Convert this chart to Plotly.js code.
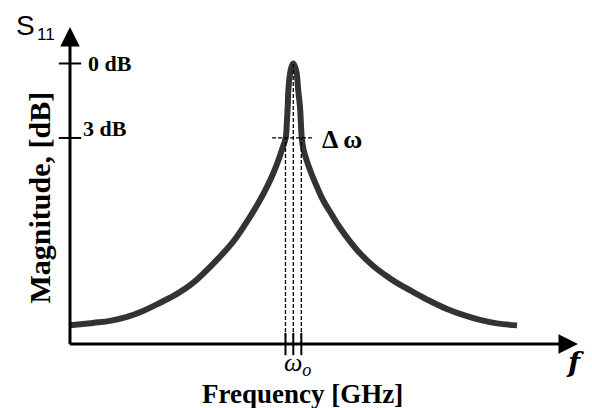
<!DOCTYPE html>
<html>
<head>
<meta charset="utf-8">
<script src="https://cdn.plot.ly/plotly-3.0.1.min.js"></script>
<style>html,body{margin:0;padding:0;background:#fff;}#chart{width:592px;height:408px;}</style>
</head>
<body>
<div id="chart"></div>
<script>
// Frequency (arbitrary GHz units, resonance at 10) and magnitude (dB)
const freq = [0.00, 1.03, 1.79, 2.55, 3.27, 4.03, 4.79, 5.51, 6.58, 7.30, 8.06, 8.51, 8.82, 9.09, 9.32, 9.49,
              9.66, 9.71, 9.75, 9.78, 9.86, 9.92, 10.00, 10.08, 10.15, 10.22, 10.30, 10.34, 10.38, 10.46,
              10.75, 11.06, 11.33, 11.73, 12.09, 12.85, 13.57, 14.11, 14.64, 15.36, 16.12, 16.88, 17.60, 18.36, 19.12, 20.02];
const magDb = [-10.55, -10.45, -10.37, -10.21, -9.97, -9.64, -9.28, -8.84, -7.91, -7.19, -6.18, -5.50, -4.97, -4.45, -3.93, -3.48,
               -3.00, -2.40, -1.75, -1.07, -0.38, -0.14, 0.00, -0.14, -0.38, -1.07, -1.75, -2.40, -3.00, -3.48,
               -4.29, -4.97, -5.50, -6.10, -6.62, -7.51, -8.15, -8.52, -8.84, -9.20, -9.57, -9.89, -10.13, -10.33, -10.47, -10.55];
// Marked frequencies: lower -3 dB point, resonance, upper -3 dB point
const markFreq = [9.65, 10.00, 10.36];
const markTop = [-3, 0, -3];
// Half-power level line extent
const halfPowerSpan = [9.05, 10.93];
const halfPowerLevel = -3;
// y tick values and labels
const yTickVals = [0, -3];
const yTickText = ['0 dB', '3 dB'];

const xMin = 0, xMax = 22.75, yMin = -11.30, yMax = 1.47;
const serif = 'Liberation Serif, Times New Roman, serif';

// vertical dashed lines
const vx = [], vy = [];
markFreq.forEach((f, i) => { vx.push(f, f, null); vy.push(yMin, markTop[i], null); });

const traces = [
  { x: freq, y: magDb, mode: 'lines', line: { color: '#333333', width: 6, shape: 'spline', smoothing: 1 },
    hoverinfo: 'skip', showlegend: false },
  { x: vx, y: vy, mode: 'lines', line: { color: '#000', width: 1.3, dash: '4px,2px' }, hoverinfo: 'skip', showlegend: false },
  { x: halfPowerSpan, y: [halfPowerLevel, halfPowerLevel], mode: 'lines',
    line: { color: '#000', width: 1.3, dash: '4px,2px' }, hoverinfo: 'skip', showlegend: false },
  { x: yTickVals.map(() => 0), y: yTickVals, mode: 'markers', cliponaxis: false,
    marker: { symbol: 'line-ew', size: 16, line: { color: '#000', width: 2 } }, hoverinfo: 'skip', showlegend: false },
  { x: markFreq, y: markFreq.map(() => yMin), mode: 'markers', cliponaxis: false,
    marker: { symbol: 'line-ns', size: 16, line: { color: '#000', width: 2 } }, hoverinfo: 'skip', showlegend: false }
];

const ann = [
  // axes with arrows
  { x: 0, y: yMax, ax: 0, ay: yMin - 0.07, axref: 'x', ayref: 'y', xref: 'x', yref: 'y', text: '',
    showarrow: true, arrowhead: 2, arrowsize: 1.3, arrowwidth: 3, arrowcolor: '#000' },
  { x: xMax, y: yMin, ax: -0.07, ay: yMin, axref: 'x', ayref: 'y', xref: 'x', yref: 'y', text: '',
    showarrow: true, arrowhead: 2, arrowsize: 1.3, arrowwidth: 3, arrowcolor: '#000' },
  // y tick labels
  { x: 0, y: yTickVals[0], xref: 'x', yref: 'y', text: '<b>' + yTickText[0] + '</b>', showarrow: false,
    xanchor: 'left', yanchor: 'middle', xshift: 16, yshift: 0, font: { family: serif, size: 22, color: '#000' } },
  { x: 0, y: yTickVals[1], xref: 'x', yref: 'y', text: '<b>' + yTickText[1] + '</b>', showarrow: false,
    xanchor: 'left', yanchor: 'middle', xshift: 11, yshift: 9, font: { family: serif, size: 22, color: '#000' } },
  // S11
  { x: 0, y: yMax, xref: 'x', yref: 'y', text: 'S', showarrow: false, xanchor: 'center', yanchor: 'middle',
    xshift: -45, yshift: 2, font: { family: 'Liberation Sans, Arial, sans-serif', size: 28, color: '#000' } },
  { x: 0, y: yMax, xref: 'x', yref: 'y', text: '11', showarrow: false, xanchor: 'center', yanchor: 'middle',
    xshift: -24, yshift: -7, font: { family: 'Liberation Sans, Arial, sans-serif', size: 17, color: '#000' } },
  // delta omega
  { x: markFreq[2], y: halfPowerLevel, xref: 'x', yref: 'y', text: '<b>\u0394 \u03c9</b>', showarrow: false,
    xanchor: 'left', yanchor: 'middle', xshift: 19, yshift: -2, font: { family: serif, size: 26, color: '#000' } },
  // omega_o
  { x: markFreq[1], y: yMin, xref: 'x', yref: 'y', text: '<i>\u03c9<sub>o</sub></i>', showarrow: false,
    xanchor: 'center', yanchor: 'middle', xshift: 4, yshift: -20, font: { family: serif, size: 26, color: '#000' } },
  // f
  { x: xMax, y: yMin, xref: 'x', yref: 'y', text: '<b><i>f</i></b>', showarrow: false,
    xanchor: 'center', yanchor: 'middle', xshift: -3, yshift: -18, font: { family: 'DejaVu Serif, serif', size: 28, color: '#000' } },
  // axis titles
  { x: 0.458, y: 0, xref: 'paper', yref: 'paper', text: '<b>Frequency [GHz]</b>', showarrow: false,
    xanchor: 'center', yanchor: 'middle', yshift: -50, font: { family: serif, size: 27, color: '#000' } },
  { x: 0, y: 0.462, xref: 'paper', yref: 'paper', text: '<b>Magnitude, [dB]</b>', showarrow: false, textangle: -90,
    xanchor: 'center', yanchor: 'middle', xshift: -30, font: { family: serif, size: 30, color: '#000' } }
];

const layout = {
  width: 592, height: 408,
  margin: { l: 70, r: 14, t: 27, b: 64 },
  paper_bgcolor: '#fff', plot_bgcolor: '#fff',
  showlegend: false,
  xaxis: { range: [xMin, xMax], showgrid: false, zeroline: false, showline: false, showticklabels: false, ticks: '', fixedrange: true },
  yaxis: { range: [yMin, yMax], showgrid: false, zeroline: false, showline: false, showticklabels: false, ticks: '', fixedrange: true },
  annotations: ann
};

Plotly.newPlot('chart', traces, layout, { staticPlot: true, displayModeBar: false });
</script>
</body>
</html>
